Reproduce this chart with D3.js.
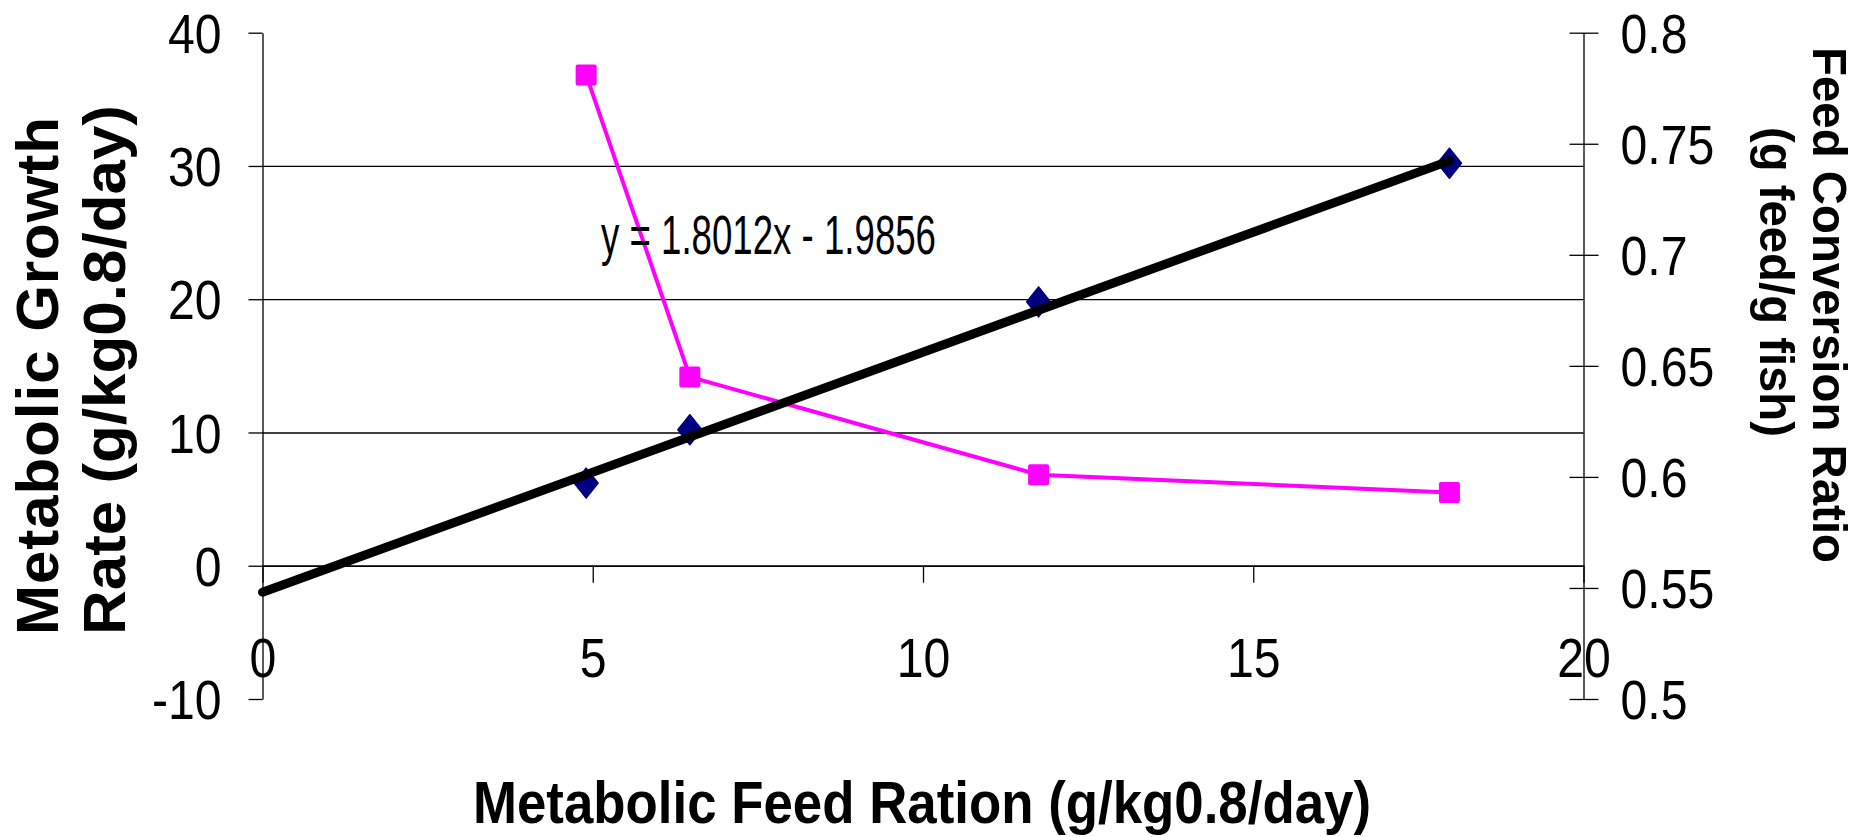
<!DOCTYPE html>
<html>
<head>
<meta charset="utf-8">
<script src="https://cdn.jsdelivr.net/npm/d3@7/dist/d3.min.js"></script>
<style>
  html, body { margin: 0; padding: 0; background: #fff; }
  svg { display: block; }
  text { font-family: "Liberation Sans", Arial, sans-serif; fill: #000; }
</style>
</head>
<body>
<svg id="chart" width="1858" height="837"></svg>
<script>
// ---- data ----
const feedRation = [4.9, 6.47, 11.75, 17.97];      // x: Metabolic Feed Ration
const growthRate = [6.2, 10.2, 19.8, 30.2];        // left axis: Metabolic Growth Rate
const feedConversion = [0.781, 0.645, 0.601, 0.593]; // right axis: Feed Conversion Ratio
const trendSlope = 1.8012;
const trendIntercept = -1.9856;
const trendLabel = "y = 1.8012x - 1.9856";
const xTicks = [0, 5, 10, 15, 20];
const yLeftTicks = [-10, 0, 10, 20, 30, 40];
const yRightTicks = [0.5, 0.55, 0.6, 0.65, 0.7, 0.75, 0.8];
const gridTicks = [0, 10, 20, 30];
const xTitle = "Metabolic Feed Ration (g/kg0.8/day)";
const yLeftTitle = ["Metabolic Growth", "Rate (g/kg0.8/day)"];
const yRightTitle = ["Feed Conversion Ratio", "(g feed/g fish)"];

// ---- layout ----
const svg = d3.select("#chart");
const X0 = 262.5, X1 = 1583.5, YT = 32.7, YB = 699;

const x = d3.scaleLinear().domain([0, 20]).range([X0, X1]);
const yL = d3.scaleLinear().domain([-10, 40]).range([YB, YT]);
const yR = d3.scaleLinear().domain([0.5, 0.8]).range([YB, YT]);

function squeeze(sel, factor) {
  sel.each(function() {
    const w = this.getComputedTextLength();
    d3.select(this).attr("textLength", w * factor).attr("lengthAdjust", "spacingAndGlyphs");
  });
}

// gridlines
svg.append("g")
  .attr("transform", `translate(${X0},0)`)
  .call(d3.axisLeft(yL).tickValues(gridTicks).tickSize(-(X1 - X0)).tickFormat(""))
  .call(g => g.select(".domain").remove())
  .call(g => g.selectAll("line").attr("stroke", "#000").attr("stroke-width", 1.3));

// left axis
const gL = svg.append("g")
  .attr("transform", `translate(${X0},0)`)
  .call(d3.axisLeft(yL).tickValues(yLeftTicks).tickSize(14).tickSizeOuter(0).tickFormat(d => String(d)));
gL.select(".domain").attr("stroke", "#000").attr("stroke-width", 1.3);
gL.selectAll(".tick line").attr("stroke", "#000").attr("stroke-width", 1.3);
gL.selectAll(".tick text")
  .attr("font-family", "Liberation Sans, Arial, sans-serif")
  .attr("font-size", 56).attr("dy", "0.35em").attr("x", -41);
squeeze(gL.selectAll(".tick text"), 0.86);

// right axis
const gR = svg.append("g")
  .attr("transform", `translate(${X1},0)`)
  .call(d3.axisRight(yR).tickValues(yRightTicks).tickSize(15).tickSizeOuter(0).tickFormat(d => String(+d.toFixed(2))));
gR.select(".domain").attr("stroke", "#000").attr("stroke-width", 1.3);
gR.selectAll(".tick line").attr("x1", -14).attr("stroke", "#000").attr("stroke-width", 1.3);
gR.selectAll(".tick text")
  .attr("font-family", "Liberation Sans, Arial, sans-serif")
  .attr("font-size", 56).attr("dy", "0.35em").attr("x", 37);
squeeze(gR.selectAll(".tick text"), 0.86);

// x axis (crosses at y = 0)
const gX = svg.append("g")
  .attr("transform", `translate(0,${yL(0)})`)
  .call(d3.axisBottom(x).tickValues(xTicks).tickSize(17).tickSizeOuter(0).tickFormat(d => String(d)));
gX.select(".domain").attr("stroke", "#000").attr("stroke-width", 1.3);
gX.selectAll(".tick line").attr("stroke", "#000").attr("stroke-width", 1.3);
gX.selectAll(".tick text")
  .attr("font-family", "Liberation Sans, Arial, sans-serif")
  .attr("font-size", 56).attr("dy", null).attr("y", 677 - yL(0));
squeeze(gX.selectAll(".tick text"), 0.86);

// FCR series (right axis)
const fcrPts = feedRation.map((v, i) => [x(v), yR(feedConversion[i])]);
svg.append("path")
  .attr("d", d3.line()(fcrPts))
  .attr("fill", "none").attr("stroke", "#FF00FF").attr("stroke-width", 4);
svg.append("g").selectAll("rect").data(fcrPts).join("rect")
  .attr("x", d => d[0] - 10.5).attr("y", d => d[1] - 10.5)
  .attr("width", 21).attr("height", 21).attr("rx", 2)
  .attr("fill", "#FF00FF");

// growth series (left axis) diamonds
const grPts = feedRation.map((v, i) => [x(v), yL(growthRate[i])]);
svg.append("g").selectAll("path").data(grPts).join("path")
  .attr("d", d => `M${d[0]},${d[1] - 15} L${d[0] + 12},${d[1]} L${d[0]},${d[1] + 15} L${d[0] - 12},${d[1]} Z`)
  .attr("fill", "#000080").attr("stroke", "#000080").attr("stroke-width", 1.5).attr("stroke-linejoin", "round");

// linear trendline
const tx0 = 0, tx1 = d3.max(feedRation);
svg.append("line")
  .attr("x1", x(tx0)).attr("y1", yL(trendSlope * tx0 + trendIntercept))
  .attr("x2", x(tx1)).attr("y2", yL(trendSlope * tx1 + trendIntercept))
  .attr("stroke", "#000").attr("stroke-width", 9).attr("stroke-linecap", "round");

// trendline equation
svg.append("text")
  .attr("x", 601).attr("y", 254)
  .attr("font-size", 55)
  .attr("textLength", 335).attr("lengthAdjust", "spacingAndGlyphs")
  .text(trendLabel);

// x title
svg.append("text")
  .attr("x", 922).attr("y", 823)
  .attr("text-anchor", "middle")
  .attr("font-size", 60).attr("font-weight", "bold")
  .attr("textLength", 898).attr("lengthAdjust", "spacingAndGlyphs")
  .text(xTitle);

// left title (two lines, rotated)
svg.append("text")
  .attr("transform", "translate(58,635) rotate(-90)")
  .attr("font-size", 60).attr("font-weight", "bold")
  .attr("textLength", 518).attr("lengthAdjust", "spacing")
  .text(yLeftTitle[0]);
svg.append("text")
  .attr("transform", "translate(125,635) rotate(-90)")
  .attr("font-size", 60).attr("font-weight", "bold")
  .attr("textLength", 530).attr("lengthAdjust", "spacingAndGlyphs")
  .text(yLeftTitle[1]);

// right title (two lines, rotated)
svg.append("text")
  .attr("transform", "translate(1813,47) rotate(90)")
  .attr("font-size", 49).attr("font-weight", "bold")
  .attr("textLength", 516).attr("lengthAdjust", "spacingAndGlyphs")
  .text(yRightTitle[0]);
svg.append("text")
  .attr("transform", "translate(1760,127) rotate(90)")
  .attr("font-size", 49).attr("font-weight", "bold")
  .attr("textLength", 310).attr("lengthAdjust", "spacingAndGlyphs")
  .text(yRightTitle[1]);
</script>
</body>
</html>
